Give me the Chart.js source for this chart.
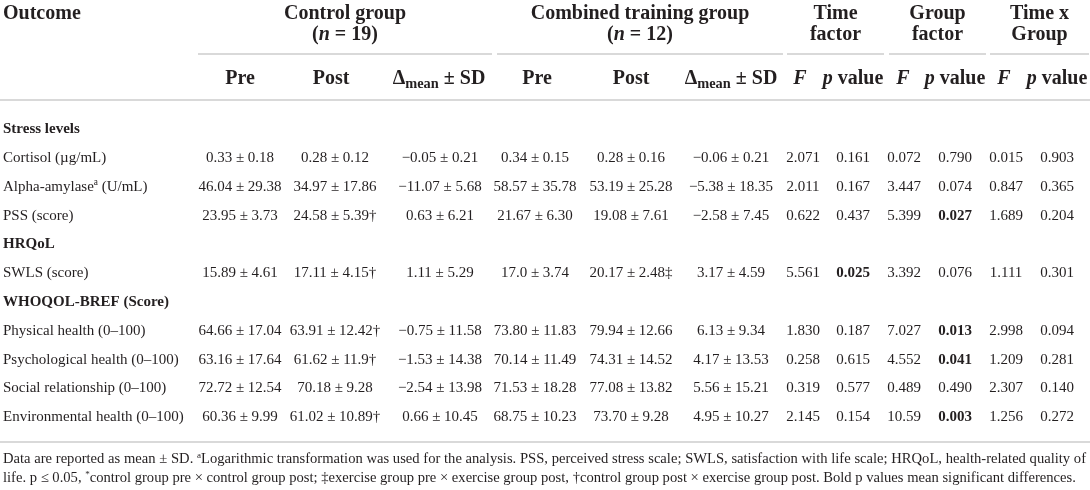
<!DOCTYPE html>
<html><head><meta charset="utf-8">
<script src="https://cdn.jsdelivr.net/npm/chart.js@4.4.0/dist/chart.umd.min.js"></script>
<style>html,body{margin:0;padding:0;background:#fff;overflow:hidden}canvas{display:block}</style>
</head><body>
<canvas id="c" width="1090" height="490"></canvas>
<script>
// ---------- DATA ----------
const outcomes = ['Stress levels','Cortisol (µg/mL)','Alpha-amylase^{a} (U/mL)','PSS (score)','HRQoL','SWLS (score)','WHOQOL-BREF (Score)','Physical health (0–100)','Psychological health (0–100)','Social relationship (0–100)','Environmental health (0–100)'];
const sectionRow = [true,false,false,false,true,false,true,false,false,false,false];
const ctrlPre   = ['','0.33 ± 0.18','46.04 ± 29.38','23.95 ± 3.73','','15.89 ± 4.61','','64.66 ± 17.04','63.16 ± 17.64','72.72 ± 12.54','60.36 ± 9.99'];
const ctrlPost  = ['','0.28 ± 0.12','34.97 ± 17.86','24.58 ± 5.39†','','17.11 ± 4.15†','','63.91 ± 12.42†','61.62 ± 11.9†','70.18 ± 9.28','61.02 ± 10.89†'];
const ctrlDelta = ['','−0.05 ± 0.21','−11.07 ± 5.68','0.63 ± 6.21','','1.11 ± 5.29','','−0.75 ± 11.58','−1.53 ± 14.38','−2.54 ± 13.98','0.66 ± 10.45'];
const combPre   = ['','0.34 ± 0.15','58.57 ± 35.78','21.67 ± 6.30','','17.0 ± 3.74','','73.80 ± 11.83','70.14 ± 11.49','71.53 ± 18.28','68.75 ± 10.23'];
const combPost  = ['','0.28 ± 0.16','53.19 ± 25.28','19.08 ± 7.61','','20.17 ± 2.48‡','','79.94 ± 12.66','74.31 ± 14.52','77.08 ± 13.82','73.70 ± 9.28'];
const combDelta = ['','−0.06 ± 0.21','−5.38 ± 18.35','−2.58 ± 7.45','','3.17 ± 4.59','','6.13 ± 9.34','4.17 ± 13.53','5.56 ± 15.21','4.95 ± 10.27'];
const timeF  = ['','2.071','2.011','0.622','','5.561','','1.830','0.258','0.319','2.145'];
const timeP  = ['','0.161','0.167','0.437','','0.025','','0.187','0.615','0.577','0.154'];
const groupF = ['','0.072','3.447','5.399','','3.392','','7.027','4.552','0.489','10.59'];
const groupP = ['','0.790','0.074','0.027','','0.076','','0.013','0.041','0.490','0.003'];
const interF = ['','0.015','0.847','1.689','','1.111','','2.998','1.209','2.307','1.256'];
const interP = ['','0.903','0.365','0.204','','0.301','','0.094','0.281','0.140','0.272'];

const groupTitles1 = ['Control group','Combined training group','Time','Group','Time x'];
const groupTitles2 = ['(*n* = 19)','(*n* = 12)','factor','factor','Group'];
const subHeaders = ['Pre','Post','Δ_{mean} ± SD','Pre','Post','Δ_{mean} ± SD','*F*','*p* value','*F*','*p* value','*F*','*p* value'];
const footLine1 = 'Data are reported as mean ± SD. ^{a}Logarithmic transformation was used for the analysis. PSS, perceived stress scale; SWLS, satisfaction with life scale; HRQoL, health-related quality of';
const footLine2 = 'life. p ≤ 0.05, ^{*}control group pre × control group post; ‡exercise group pre × exercise group post, †control group post × exercise group post. Bold p values mean significant differences.';

// ---------- LAYOUT ----------
const W = 1090, H = 490;
const FONT = '"Liberation Serif", "DejaVu Serif", serif';
const INK = '#231f20';
const RULE = '#cdcdcd';
const colX = [240,335,440,535,631,731,803,853,904,955,1006,1057];
const subX = [240,331,439,537,631,731,800,853,903,955,1004,1057];
const groupSpan = [[198,492],[497,783],[787,884],[889,986],[990,1089]];
const outcomeX = 3;
const rowY0 = 128, rowStep = 28.8;
const hdr1Y = 12, hdr2Y = 33, groupRuleY = 54, subY = 77, ruleTopY = 100, ruleBotY = 442;
const foot1Y = 458, foot2Y = 477;
const BODY = 15, HEAD = 20, FOOT = 14.6;
const rowY = i => rowY0 + i*rowStep;

// ---------- RICH TEXT ----------
function parseRich(t){
  const re = /(\^\{[^}]*\}|_\{[^}]*\}|\*[^*]+\*|[^\^_*]+)/g;
  const out=[]; let m;
  while((m=re.exec(t))){
    const s=m[0];
    if(s.startsWith('^{')) out.push({t:s.slice(2,-1),k:'sup'});
    else if(s.startsWith('_{')) out.push({t:s.slice(2,-1),k:'sub'});
    else if(s.startsWith('*')&&s.length>2) out.push({t:s.slice(1,-1),k:'it'});
    else out.push({t:s,k:'n'});
  }
  return out;
}
function segFont(seg,size,weight){
  let sz=size, it=false;
  if(seg.k==='sup') sz=size*0.62;
  if(seg.k==='sub') sz=size*0.72;
  if(seg.k==='it') it=true;
  return (it?'italic ':'')+weight+' '+sz.toFixed(2)+'px '+FONT;
}
function richWidth(ctx,t,size,weight){
  let w=0;
  for(const s of parseRich(t)){ctx.font=segFont(s,size,weight); w+=ctx.measureText(s.t).width;}
  return w;
}
function drawRich(ctx,t,x,y,size,weight,align){
  const segs=parseRich(t);
  const w=richWidth(ctx,t,size,weight);
  let cx = align==='center'? x-w/2 : align==='right'? x-w : x;
  const base = y + size*0.34;
  ctx.textBaseline='alphabetic'; ctx.textAlign='left'; ctx.fillStyle=INK;
  for(const s of segs){
    ctx.font=segFont(s,size,weight);
    let dy=0;
    if(s.k==='sup') dy=-size*0.36;
    if(s.k==='sub') dy=size*0.22;
    ctx.fillText(s.t,cx,base+dy);
    cx+=ctx.measureText(s.t).width;
  }
}
function drawJustified(ctx,t,x0,x1,y,size,weight){
  const words=t.split(' ');
  const ws=words.map(w=>richWidth(ctx,w,size,weight));
  const total=ws.reduce((a,b)=>a+b,0);
  const gap=(x1-x0-total)/(words.length-1);
  let cx=x0;
  words.forEach((w,i)=>{drawRich(ctx,w,cx,y,size,weight,'left'); cx+=ws[i]+gap;});
}

// ---------- DATASETS ----------
const cellCols = [ctrlPre,ctrlPost,ctrlDelta,combPre,combPost,combDelta,timeF,timeP,groupF,groupP,interF,interP];
const pCols = new Set([7,9,11]);
const datasets = [];
function textSet(points,texts,style){
  datasets.push({type:'scatter',data:points,cellText:texts,textStyle:style,pointRadius:0,pointHoverRadius:0});
}
textSet(outcomes.map((_,i)=>({x:outcomeX,y:rowY(i)})), outcomes,
  {size:BODY,align:'left',weight:i=>sectionRow[i]?'bold':'normal'});
cellCols.forEach((arr,c)=>{
  textSet(arr.map((_,i)=>({x:colX[c],y:rowY(i)})), arr,
    {size:BODY,align:'center',weight:i=> (pCols.has(c) && arr[i]!=='' && parseFloat(arr[i])<=0.05)?'bold':'normal'});
});
textSet([{x:outcomeX,y:hdr1Y}],['Outcome'],{size:HEAD,align:'left',weight:()=> 'bold'});
textSet(groupSpan.map(s=>({x:(s[0]+s[1])/2,y:hdr1Y})),groupTitles1,{size:HEAD,align:'center',weight:()=> 'bold'});
textSet(groupSpan.map(s=>({x:(s[0]+s[1])/2,y:hdr2Y})),groupTitles2,{size:HEAD,align:'center',weight:()=> 'bold'});
textSet(subX.map(x=>({x:x,y:subY})),subHeaders,{size:HEAD,align:'center',weight:()=> 'bold'});
function ruleSet(x0,x1,y){
  datasets.push({type:'line',data:[{x:x0,y:y},{x:x1,y:y}],borderColor:RULE,borderWidth:1.6,pointRadius:0,fill:false,tension:0});
}
ruleSet(0,W,ruleTopY); ruleSet(0,W,ruleBotY);
groupSpan.forEach(s=>ruleSet(s[0],s[1],groupRuleY));

const textPlugin = {
  id:'tableText',
  afterDatasetsDraw(chart){
    const ctx=chart.ctx; ctx.save();
    chart.data.datasets.forEach((ds,di)=>{
      if(!ds.cellText) return;
      const meta=chart.getDatasetMeta(di);
      meta.data.forEach((el,i)=>{
        const t=ds.cellText[i]; if(!t) return;
        drawRich(ctx,t,el.x,el.y,ds.textStyle.size,ds.textStyle.weight(i),ds.textStyle.align);
      });
    });
    const xs=chart.scales.x, ys=chart.scales.y;
    drawJustified(ctx,footLine1,xs.getPixelForValue(3),xs.getPixelForValue(1086),ys.getPixelForValue(foot1Y),FOOT,'normal');
    drawRich(ctx,footLine2,xs.getPixelForValue(3),ys.getPixelForValue(foot2Y),FOOT,'normal','left');
    ctx.restore();
  }
};

new Chart(document.getElementById('c'),{
  type:'scatter',
  data:{datasets},
  options:{
    responsive:false, animation:false, events:[],
    layout:{padding:0},
    plugins:{legend:{display:false},tooltip:{enabled:false}},
    scales:{
      x:{type:'linear',min:0,max:W,display:false},
      y:{type:'linear',min:0,max:H,reverse:true,display:false}
    }
  },
  plugins:[textPlugin]
});
</script>
</body></html>
